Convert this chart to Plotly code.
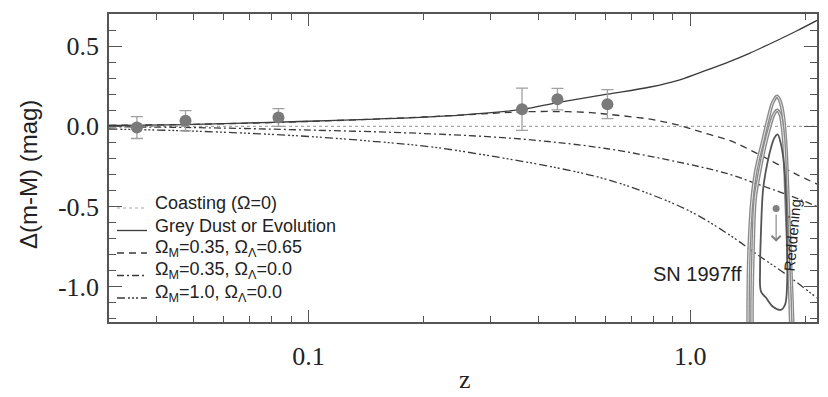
import numpy as np
import plotly.graph_objects as go

# ---------------- data ----------------
coast_z = [0.03, 2.15]
coast_v = [0.0, 0.0]

dust_z = [0.03, 0.05, 0.0947, 0.15, 0.25, 0.363, 0.449, 0.607, 0.786, 0.94, 1.1, 1.273, 1.43, 1.7, 1.9, 2.15]
dust_v = [0.005, 0.012, 0.03, 0.045, 0.07, 0.105, 0.148, 0.2, 0.245, 0.29, 0.348, 0.405, 0.455, 0.538, 0.594, 0.66]

lam_z = [0.03, 0.05, 0.1, 0.2, 0.3, 0.363, 0.45, 0.55, 0.607, 0.786, 0.94, 1.1, 1.273, 1.5, 1.72, 1.9, 2.15]
lam_v = [0.006, 0.012, 0.03, 0.058, 0.08, 0.09, 0.092, 0.085, 0.075, 0.044, 0.005, -0.045, -0.09, -0.17, -0.245, -0.30, -0.36]

open_z = [0.03, 0.05, 0.0947, 0.2, 0.363, 0.607, 0.94, 1.273, 1.5, 1.72, 1.94, 2.15]
open_v = [-0.003, -0.008, -0.022, -0.045, -0.08, -0.14, -0.225, -0.30, -0.36, -0.41, -0.456, -0.50]

eds_z = [0.03, 0.05, 0.0947, 0.15, 0.212, 0.318, 0.45, 0.581, 0.74, 1.0, 1.273, 1.5, 1.8, 2.15]
eds_v = [-0.017, -0.03, -0.06, -0.095, -0.13, -0.195, -0.26, -0.32, -0.40, -0.53, -0.68, -0.80, -0.93, -1.07]

sn_z = [0.0355, 0.0476, 0.0834, 0.3626, 0.449, 0.607]
sn_v = [-0.008, 0.035, 0.055, 0.106, 0.169, 0.138]
sn_err = [0.068, 0.063, 0.055, 0.132, 0.067, 0.09]

# SN 1997ff likelihood contours
cA_z = [1.419, 1.419, 1.427, 1.453, 1.489, 1.543, 1.600, 1.640, 1.670, 1.690, 1.721, 1.752, 1.773, 1.784, 1.805, 1.827, 1.849, 1.861]
cA_v = [-1.30, -1.081, -0.769, -0.456, -0.269, -0.1125, 0.044, 0.1375, 0.175, 0.1875, 0.156, 0.075, -0.05, -0.144, -0.456, -0.769, -1.081, -1.30]
cB_z = [1.453, 1.453, 1.462, 1.480, 1.516, 1.562, 1.610, 1.649, 1.670, 1.690, 1.721, 1.741, 1.762, 1.773, 1.784, 1.805, 1.827, 1.838]
cB_v = [-1.30, -1.081, -0.769, -0.456, -0.30, -0.144, -0.019, 0.0625, 0.0875, 0.10, 0.075, 0.0125, -0.1125, -0.269, -0.456, -0.769, -1.081, -1.30]
cC_z = [1.695, 1.730, 1.762, 1.784, 1.795, 1.795, 1.773, 1.730, 1.649, 1.581, 1.534, 1.525, 1.534, 1.553, 1.591, 1.630, 1.660, 1.695]
cC_v = [-0.05, -0.1125, -0.2375, -0.456, -0.769, -0.9875, -1.1125, -1.144, -1.125, -1.069, -1.031, -0.894, -0.644, -0.394, -0.2375, -0.131, -0.075, -0.05]

ff_z = [1.68]
ff_v = [-0.5125]
ff_arrow_end = -0.72
ff_arrow_start = -0.54

x_ticks = [0.1, 1.0]
x_tick_text = ["0.1", "1.0"]
x_minor = [0.04, 0.05, 0.06, 0.07, 0.08, 0.09, 0.2, 0.3, 0.4, 0.5, 0.6, 0.7, 0.8, 0.9, 2.0]
y_ticks = [-1.0, -0.5, 0.0, 0.5]
y_tick_text = ["-1.0", "-0.5", "0.0", "0.5"]

legend_labels = ["Coasting (Ω=0)", "Grey Dust or Evolution",
                 "Ω<sub>M</sub>=0.35, Ω<sub>Λ</sub>=0.65",
                 "Ω<sub>M</sub>=0.35, Ω<sub>Λ</sub>=0.0",
                 "Ω<sub>M</sub>=1.0, Ω<sub>Λ</sub>=0.0"]

# ---------------- styles ----------------
CURVE = "#3a3a3a"
styles = [
    dict(color="#a8a8a8", width=1.2, dash="dot"),
    dict(color=CURVE, width=1.3, dash="solid"),
    dict(color=CURVE, width=1.3, dash="7px,5px"),
    dict(color=CURVE, width=1.3, dash="7px,3px,2px,3px"),
    dict(color=CURVE, width=1.3, dash="8px,3px,2px,2px,2px,2px,2px,3px"),
]

fig = go.Figure()
series = [(coast_z, coast_v), (dust_z, dust_v), (lam_z, lam_v), (open_z, open_v), (eds_z, eds_v)]
for (zz, vv), st, lab in zip(series, styles, legend_labels):
    fig.add_trace(go.Scatter(x=zz, y=vv, mode="lines", name=lab, showlegend=False,
                             line=dict(color=st["color"], width=st["width"], dash=st["dash"], shape="spline")))

# contours
for cz, cv in ((cA_z, cA_v), (cB_z, cB_v)):
    fig.add_trace(go.Scatter(x=cz, y=cv, mode="lines", showlegend=False, hoverinfo="skip",
                             line=dict(color="#8a8a8a", width=3.6, shape="spline")))
    fig.add_trace(go.Scatter(x=cz, y=cv, mode="lines", showlegend=False, hoverinfo="skip",
                             line=dict(color="#e6e6e6", width=1.0, shape="spline")))
fig.add_trace(go.Scatter(x=cC_z, y=cC_v, mode="lines", showlegend=False, hoverinfo="skip",
                         line=dict(color="#555555", width=1.8, shape="spline")))

# data points
fig.add_trace(go.Scatter(x=sn_z, y=sn_v, mode="markers", showlegend=False,
                         marker=dict(color="#7a7a7a", size=12),
                         error_y=dict(type="data", array=sn_err, color="#a0a0a0", thickness=1.3, width=6)))
fig.add_trace(go.Scatter(x=ff_z, y=ff_v, mode="markers", showlegend=False,
                         marker=dict(color="#808080", size=7)))

fig.add_annotation(x=np.log10(ff_z[0]), y=ff_arrow_end, ax=np.log10(ff_z[0]), ay=ff_arrow_start,
                   xref="x", yref="y", axref="x", ayref="y", text="", showarrow=True,
                   arrowhead=4, arrowsize=1.6, arrowwidth=1.1, arrowcolor="#808080")
fig.add_annotation(x=np.log10(1.043), y=-0.92, xref="x", yref="y", text="SN 1997ff", showarrow=False,
                   font=dict(family="Liberation Sans, Arial", size=20, color="#222"))
fig.add_annotation(x=np.log10(1.85), y=-0.68, xref="x", yref="y", text="Reddening", showarrow=False,
                   textangle=-85, font=dict(family="Liberation Sans, Arial", size=15, color="#222"))

# Geometry of the plot area in window pixels (page body has an 8px margin)
PLOT_L, PLOT_B, PLOT_W, PLOT_H = 109.0, 322.0, 708.0, 308.0


def px_x(p):
    return (p - PLOT_L) / PLOT_W


def px_y(p):
    return (PLOT_B - p) / PLOT_H


# hand-placed legend (line samples + labels)
row_px = [203, 225.5, 248, 270.5, 293]
for i, (st, lab) in enumerate(zip(styles, legend_labels)):
    fig.add_shape(type="line", xref="paper", yref="paper", x0=px_x(117), x1=px_x(147),
                  y0=px_y(row_px[i] + 5), y1=px_y(row_px[i] + 5),
                  line=dict(color=st["color"], width=st["width"], dash=st["dash"]))
    fig.add_annotation(x=px_x(154), y=px_y(row_px[i]), xref="paper", yref="paper", text=lab,
                       showarrow=False, xanchor="left", yanchor="middle", borderpad=0,
                       font=dict(family="Liberation Sans, Arial", size=18, color="#222"))

# axis titles
fig.add_annotation(x=px_x(28), y=px_y(175), xref="paper", yref="paper", text="Δ(m-M) (mag)",
                   showarrow=False, textangle=-90, xanchor="center", yanchor="middle",
                   font=dict(family="Liberation Sans, Arial", size=24, color="#222"))
fig.add_annotation(x=px_x(465), y=px_y(379), xref="paper", yref="paper", text="z",
                   showarrow=False, xanchor="center", yanchor="middle", borderpad=0,
                   font=dict(family="Liberation Serif, Times New Roman", size=26, color="#222"))

axis_common = dict(showgrid=False, zeroline=False, showline=True, linecolor="#555", linewidth=1.5,
                   mirror="allticks", ticks="inside", tickcolor="#555", tickwidth=1.2, automargin=False)

fig.update_xaxes(type="log", range=[np.log10(0.03), np.log10(2.15)],
                 tickmode="array", tickvals=x_ticks, ticktext=x_tick_text, ticklen=12,
                 tickfont=dict(family="Liberation Serif, Times New Roman", size=26, color="#222"),
                 ticklabelstandoff=10,
                 minor=dict(tickmode="array", tickvals=x_minor, ticks="inside", ticklen=6,
                            tickcolor="#555", tickwidth=1.0, showgrid=False),
                 **axis_common)
fig.update_yaxes(range=[-1.22, 0.7], tickmode="array", tickvals=y_ticks, ticktext=y_tick_text, ticklen=13,
                 tickfont=dict(family="Liberation Serif, Times New Roman", size=26, color="#222"),
                 ticklabelstandoff=3,
                 minor=dict(tick0=0, dtick=0.1, ticks="inside", ticklen=7,
                            tickcolor="#555", tickwidth=1.0, showgrid=False),
                 **axis_common)

# figure is offset by the page's 8px body margin, so it is sized to end at the window edge
fig.update_layout(width=820, height=389, margin=dict(l=101, r=11, t=6, b=75),
                  plot_bgcolor="white", paper_bgcolor="white", showlegend=False)

fig.write_html("out.html")
